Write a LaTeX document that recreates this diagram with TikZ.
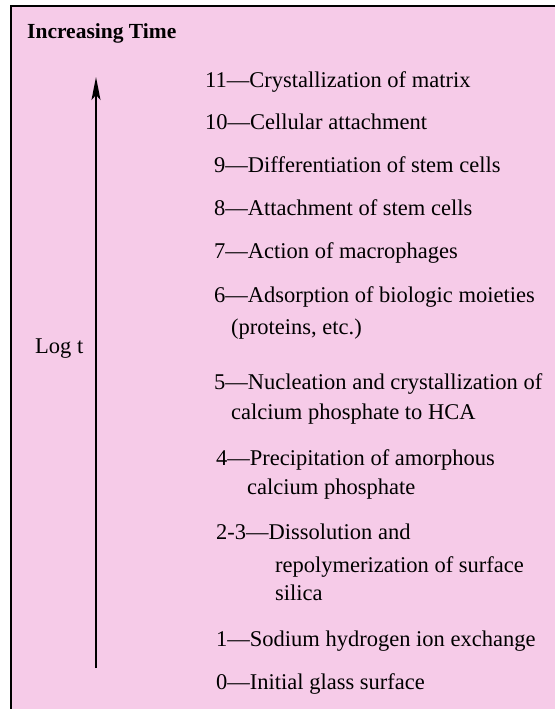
\documentclass[tikz,border=0pt]{standalone}
\usepackage{fontspec}
\setmainfont{Liberation Serif}
\usetikzlibrary{arrows.meta}
\definecolor{bgpink}{RGB}{246,203,232}
\begin{document}
\begin{tikzpicture}[x=1pt,y=-1pt,
  lbl/.style={anchor=base west,inner sep=0pt,font=\fontsize{22.5}{26}\selectfont},
  ttl/.style={anchor=base west,inner sep=0pt,font=\fontsize{21.5}{24}\selectfont\bfseries}]
\useasboundingbox (0,0) rectangle (555,709);
\fill[white] (0,0) rectangle (555,709);
\fill[bgpink] (10.5,6) rectangle (555,709);
\draw[line width=2pt] (10.5,709) -- (10.5,6) -- (555,6);
\node[ttl] (title) at (27,39) {Increasing Time};
\coordinate (abot) at (96,668);
\coordinate (atop) at (96,77);
\draw[line width=1.5pt,-{Stealth[length=23pt,width=9pt,inset=5pt]}] (abot) -- (atop);
\node[lbl] (logt) at (35,353) {Log t};
\node[lbl] (s11) at (205,87) {11---Crystallization of matrix};
\node[lbl] (s10) at (205,129) {10---Cellular attachment};
\node[lbl] (s9) at (214,172) {9---Differentiation of stem cells};
\node[lbl] (s8) at (214,215) {8---Attachment of stem cells};
\node[lbl] (s7) at (214,258) {7---Action of macrophages};
\node[lbl] (s6) at (214,302) {6---Adsorption of biologic moieties};
\node[lbl] (s6b) at (231,334) {(proteins, etc.)};
\node[lbl] (s5) at (214,389) {5---Nucleation and crystallization of};
\node[lbl] (s5b) at (231,419) {calcium phosphate to HCA};
\node[lbl] (s4) at (216,465) {4---Precipitation of amorphous};
\node[lbl] (s4b) at (247,494) {calcium phosphate};
\node[lbl] (s23) at (216,539) {2-3---Dissolution and};
\node[lbl] (s23b) at (275,572) {repolymerization of surface};
\node[lbl] (s23c) at (275,600) {silica};
\node[lbl] (s1) at (216,646) {1---Sodium hydrogen ion exchange};
\node[lbl] (s0) at (216,689) {0---Initial glass surface};
\end{tikzpicture}
\end{document}
